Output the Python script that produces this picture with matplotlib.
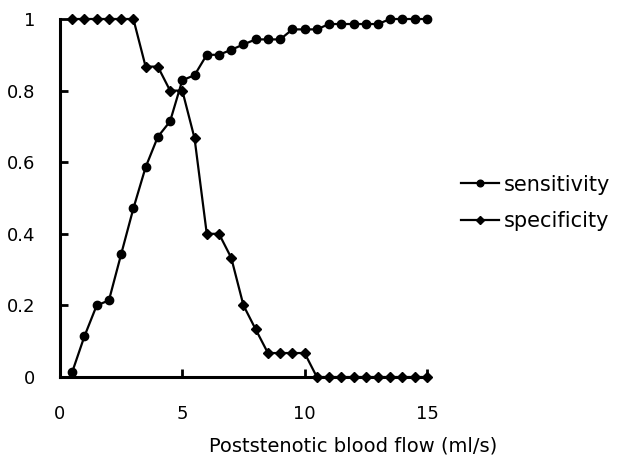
import matplotlib
matplotlib.use('Agg')
import matplotlib.pyplot as plt
from matplotlib.ticker import FuncFormatter

# blood flow thresholds (ml/s)
flow = [0.5, 1.0, 1.5, 2.0, 2.5, 3.0, 3.5, 4.0, 4.5, 5.0,
        5.5, 6.0, 6.5, 7.0, 7.5, 8.0, 8.5, 9.0, 9.5, 10.0,
        10.5, 11.0, 11.5, 12.0, 12.5, 13.0, 13.5, 14.0, 14.5, 15.0]

sensitivity = [0.014, 0.114, 0.200, 0.214, 0.343, 0.471, 0.586, 0.671, 0.714, 0.829,
               0.843, 0.900, 0.900, 0.914, 0.929, 0.943, 0.943, 0.943, 0.971, 0.971,
               0.971, 0.986, 0.986, 0.986, 0.986, 0.986, 1.0, 1.0, 1.0, 1.0]

specificity = [1.0, 1.0, 1.0, 1.0, 1.0, 1.0, 0.867, 0.867, 0.800, 0.800,
               0.667, 0.400, 0.400, 0.333, 0.200, 0.133, 0.067, 0.067, 0.067, 0.067,
               0.0, 0.0, 0.0, 0.0, 0.0, 0.0, 0.0, 0.0, 0.0, 0.0]

xticks = [0, 5, 10, 15]
yticks = [0, 0.2, 0.4, 0.6, 0.8, 1]

plt.rcParams['font.family'] = ['DejaVu Sans']

fig = plt.figure(figsize=(6.23, 4.59), dpi=100)
ax = fig.add_axes([0.0963, 0.1786, 0.589, 0.78])

ax.plot(flow, sensitivity, color='black', lw=1.6, marker='o', markersize=6,
        clip_on=False, label='sensitivity')
ax.plot(flow, specificity, color='black', lw=1.6, marker='D', markersize=5.5,
        clip_on=False, label='specificity')

ax.set_xlim(0, 15)
ax.set_ylim(0, 1)
ax.set_xticks(xticks)
ax.set_yticks(yticks)
ax.yaxis.set_major_formatter(FuncFormatter(lambda v, p: '%g' % v))

for side in ['top', 'right']:
    ax.spines[side].set_visible(False)
for side in ['left', 'bottom']:
    ax.spines[side].set_linewidth(2.2)

ax.tick_params(direction='in', length=6, width=2, labelsize=13)
ax.tick_params(axis='x', pad=20)
ax.tick_params(axis='y', pad=18)

ax.set_xlabel('Poststenotic blood flow (ml/s)', fontsize=14)
ax.xaxis.set_label_coords(0.80, -0.165)

ax.legend(loc='center left', bbox_to_anchor=(1.042, 0.486), frameon=False,
          fontsize=15, handlelength=1.8, handletextpad=0.25, labelspacing=0.8,
          markerscale=0.8)

fig.savefig('out.png', dpi=100)
